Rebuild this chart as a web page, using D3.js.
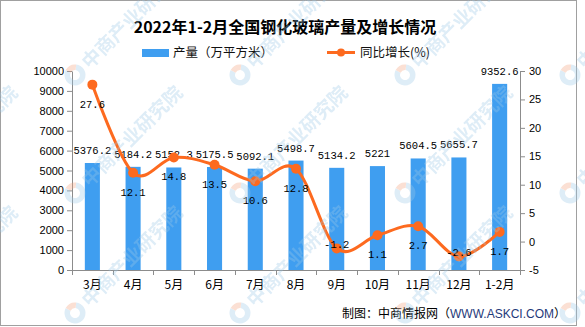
<!DOCTYPE html>
<html>
<head>
<meta charset="utf-8">
<script src="https://cdn.jsdelivr.net/npm/d3@7"></script>
<style>
  html, body { margin: 0; padding: 0; background: #fff; }
  svg { display: block; }
</style>
</head>
<body>
<svg id="chart" width="585" height="327"></svg>
<script>
// Monthly tempered glass output (10k m²) and year-on-year growth (%)
const months = ["3月", "4月", "5月", "6月", "7月", "8月", "9月", "10月", "11月", "12月", "1-2月"];
const output = [5376.2, 5184.2, 5152.3, 5175.5, 5092.1, 5498.7, 5134.2, 5221, 5604.5, 5655.7, 9352.6];
const growth = [27.6, 12.1, 14.8, 13.5, 10.6, 12.8, -1.2, 1.1, 2.7, -2.6, 1.7];
const outputLabels = ["5376.2", "5184.2", "5152.3", "5175.5", "5092.1", "5498.7", "5134.2", "5221", "5604.5", "5655.7", "9352.6"];
const growthLabels = ["27.6", "12.1", "14.8", "13.5", "10.6", "12.8", "-1.2", "1.1", "2.7", "-2.6", "1.7"];
const leftTicks = [0, 1000, 2000, 3000, 4000, 5000, 6000, 7000, 8000, 9000, 10000];
const rightTicks = [-5, 0, 5, 10, 15, 20, 25, 30];

const BAR = "#3f9ef0";
const LINE = "#fd6a1f";
const AXIS = "#8c8c8c";
const labelFont = "'Liberation Mono', 'DejaVu Sans Mono', monospace";
const cjkFont = "'Noto Sans CJK SC', 'Noto Sans', sans-serif";

const svg = d3.select("#chart");
const plot = { left: 72, right: 520, top: 71, bottom: 270 };

// outer frame
svg.append("rect")
  .attr("x", 0.5).attr("y", 0.5)
  .attr("width", 576).attr("height", 325)
  .attr("fill", "none").attr("stroke", "#a0a0a0");

// title
svg.append("text")
  .attr("x", 285).attr("y", 33)
  .attr("text-anchor", "middle")
  .attr("font-family", cjkFont)
  .attr("font-weight", "bold")
  .attr("font-size", 16)
  .attr("fill", "#000")
  .text("2022年1-2月全国钢化玻璃产量及增长情况");

// legend
const legend = svg.append("g").attr("font-family", cjkFont).attr("font-size", 12.5).attr("fill", "#111");
legend.append("rect").attr("x", 142).attr("y", 49).attr("width", 27).attr("height", 8).attr("fill", BAR);
legend.append("text").attr("x", 173).attr("y", 57).text("产量（万平方米）");
legend.append("line").attr("x1", 327).attr("x2", 355).attr("y1", 52.5).attr("y2", 52.5)
  .attr("stroke", LINE).attr("stroke-width", 3);
legend.append("circle").attr("cx", 341).attr("cy", 52.5).attr("r", 4).attr("fill", LINE);
legend.append("text").attr("x", 360).attr("y", 57).text("同比增长(%)");

// scales
const x = d3.scaleBand().domain(months).range([plot.left, plot.right]).padding(0);
const yL = d3.scaleLinear().domain([0, 10000]).range([plot.bottom, plot.top]);
const yR = d3.scaleLinear().domain([-5, 30]).range([plot.bottom, plot.top]);
const barW = x.bandwidth() * 0.37;

// bars
svg.append("g").selectAll("rect")
  .data(months)
  .join("rect")
  .attr("x", (d) => x(d) + x.bandwidth() / 2 - barW / 2)
  .attr("y", (d, i) => yL(output[i]))
  .attr("width", barW)
  .attr("height", (d, i) => plot.bottom - yL(output[i]))
  .attr("fill", BAR);

// axes
const axisStyle = (g) => {
  g.selectAll(".domain").attr("stroke", AXIS);
  g.selectAll(".tick line").attr("stroke", AXIS);
  g.selectAll(".tick text")
    .attr("font-family", "'Liberation Sans', Arial, sans-serif")
    .attr("font-size", 11)
    .attr("fill", "#000");
};

svg.append("g")
  .attr("transform", `translate(${plot.left},0)`)
  .call(d3.axisLeft(yL).tickValues(leftTicks).tickSize(5).tickSizeOuter(0).tickPadding(3).tickFormat(d3.format("d")))
  .call(axisStyle);

svg.append("g")
  .attr("transform", `translate(${plot.right},0)`)
  .call(d3.axisRight(yR).tickValues(rightTicks).tickSize(5).tickSizeOuter(0).tickPadding(4).tickFormat((d) => String(d)))
  .call(axisStyle);

// extend the vertical axes down past the baseline
svg.append("line").attr("x1", plot.left + 0.5).attr("x2", plot.left + 0.5).attr("y1", plot.bottom).attr("y2", plot.bottom + 5).attr("stroke", AXIS);
svg.append("line").attr("x1", plot.right + 0.5).attr("x2", plot.right + 0.5).attr("y1", plot.bottom).attr("y2", plot.bottom + 5).attr("stroke", AXIS);

const xAxis = svg.append("g")
  .attr("transform", `translate(0,${plot.bottom})`)
  .call(d3.axisBottom(x).tickSize(0).tickPadding(10))
  .call(axisStyle);
xAxis.selectAll(".tick text").attr("font-family", cjkFont).attr("font-size", 12);
// category boundary ticks
svg.append("g").selectAll("line")
  .data(months.slice(1))
  .join("line")
  .attr("x1", (d) => Math.round(x(d)) + 0.5)
  .attr("x2", (d) => Math.round(x(d)) + 0.5)
  .attr("y1", plot.bottom)
  .attr("y2", plot.bottom + 5)
  .attr("stroke", AXIS);

// bar value labels
svg.append("g").selectAll("text")
  .data(months)
  .join("text")
  .attr("x", (d) => x(d) + x.bandwidth() / 2)
  .attr("y", (d, i) => yL(output[i]) - 9)
  .attr("text-anchor", "middle")
  .attr("font-family", labelFont)
  .attr("font-size", 10.5)
  .attr("fill", "#000")
  .text((d, i) => outputLabels[i]);

// growth line
const line = d3.line()
  .x((d, i) => x(months[i]) + x.bandwidth() / 2)
  .y((d) => yR(d))
  .curve(d3.curveCardinal.tension(0));

svg.append("path")
  .datum(growth)
  .attr("d", line)
  .attr("fill", "none")
  .attr("stroke", LINE)
  .attr("stroke-width", 3);

svg.append("g").selectAll("circle")
  .data(growth)
  .join("circle")
  .attr("cx", (d, i) => x(months[i]) + x.bandwidth() / 2)
  .attr("cy", (d) => yR(d))
  .attr("r", 5)
  .attr("fill", LINE);

// growth value labels, below each point unless that would fall off the plot
svg.append("g").selectAll("text")
  .data(growth)
  .join("text")
  .attr("x", (d, i) => x(months[i]) + x.bandwidth() / 2)
  .attr("y", (d) => {
    const py = yR(d);
    return py + 23 > plot.bottom ? py : py + 23;
  })
  .attr("text-anchor", "middle")
  .attr("font-family", labelFont)
  .attr("font-size", 10.5)
  .attr("fill", "#000")
  .text((d, i) => growthLabels[i]);

// source note
const note = svg.append("text")
  .attr("x", 342).attr("y", 318)
  .attr("font-family", cjkFont)
  .attr("font-size", 12)
  .attr("fill", "#000");
note.append("tspan").text("制图：中商情报网（");
note.append("tspan").attr("fill", "#1f3a7a").attr("font-family", "'Liberation Sans', Arial, sans-serif").text("WWW.ASKCI.COM");
note.append("tspan").text("）");

// diagonal brand watermark tiled over the chart
const wmCols = [-90, 75, 240, 405, 570];
const wmRows = [-44, 75, 193, 313];
const wm = svg.append("g").attr("pointer-events", "none").attr("opacity", 0.33);
const arcRing = d3.arc().innerRadius(5).outerRadius(10.5);
wmRows.forEach((cy) => {
  wmCols.forEach((cx) => {
    const g = wm.append("g").attr("transform", `translate(${cx},${cy}) rotate(-45)`);
    g.append("path").attr("d", arcRing({ startAngle: 0.9, endAngle: 2 * Math.PI - 0.3 })).attr("fill", "#9cc7e6");
    g.append("path").attr("d", arcRing({ startAngle: -0.3, endAngle: 0.9 })).attr("fill", "#f3a27c");
    g.append("text")
      .attr("x", 14).attr("y", 7)
      .attr("font-family", cjkFont)
      .attr("font-weight", "bold")
      .attr("font-size", 19)
      .attr("fill", "#9cc7e6")
      .text("中商产业研究院");
  });
});
</script>
</body>
</html>
